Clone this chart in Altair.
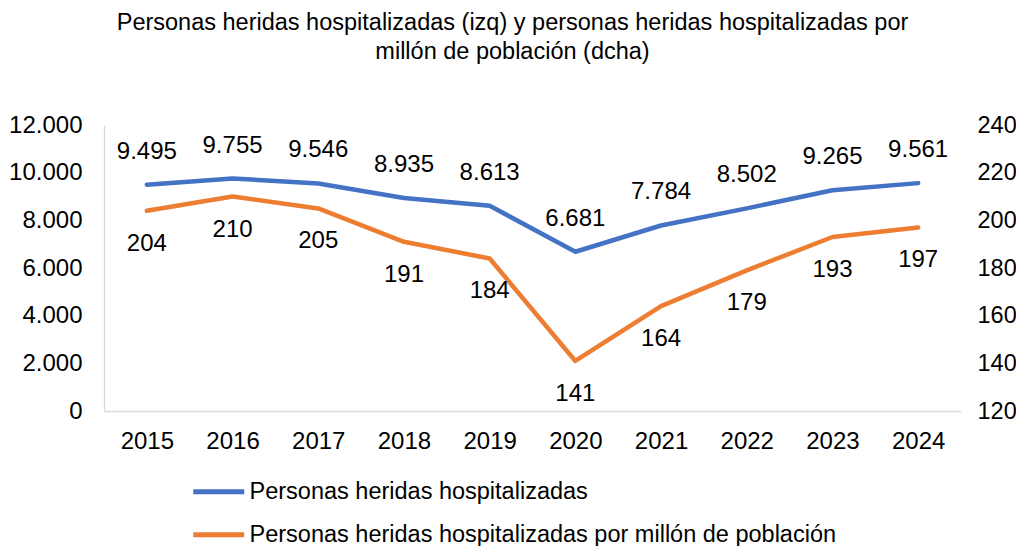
import altair as alt
import pandas as pd

years = ["2015", "2016", "2017", "2018", "2019", "2020", "2021", "2022", "2023", "2024"]
heridos = [9495, 9755, 9546, 8935, 8613, 6681, 7784, 8502, 9265, 9561]
por_millon = [204, 210, 205, 191, 184, 141, 164, 179, 193, 197]
serie_a = "Personas heridas hospitalizadas"
serie_b = "Personas heridas hospitalizadas por millón de población"
title_lines = ["Personas heridas hospitalizadas (izq) y personas heridas hospitalizadas por",
               "millón de población (dcha)"]

df = pd.DataFrame({"year": years, "heridos": heridos, "millon": por_millon})

FONT = "Liberation Sans"
BLUE = "#4472C4"
ORANGE = "#ED7D31"
GRAY = "#D9D9D9"
FS = 24

x = alt.X("year:O", scale=alt.Scale(type="point", padding=0.5),
          axis=alt.Axis(title=None, labelAngle=0, ticks=False, tickSize=0, labelPadding=18.5,
                        domainColor=GRAY, domainWidth=1.3, labelFontSize=FS, labelFont=FONT,
                        labelColor="#000000", grid=False))

color = alt.Color("serie:N", scale=alt.Scale(domain=[serie_a, serie_b], range=[BLUE, ORANGE]),
                  legend=alt.Legend(title=None, orient="none", legendX=103, legendY=355,
                                    direction="vertical", symbolType="M-3,0H3", symbolSize=289,
                                    symbolStrokeWidth=5, labelFontSize=23.5, labelFont=FONT,
                                    labelColor="#000000", rowPadding=18, labelOffset=19,
                                    labelLimit=0, padding=0))

yl = alt.Y("heridos:Q", scale=alt.Scale(domain=[0, 12000]),
           axis=alt.Axis(title=None, orient="left", values=list(range(0, 12001, 2000)),
                         labelExpr="replace(format(datum.value, ',d'), ',', '.')",
                         ticks=False, tickSize=0, grid=False, domainColor=GRAY, domainWidth=1.3,
                         labelPadding=22, labelFontSize=FS, labelFont=FONT, labelColor="#000000"))

yr = alt.Y("millon:Q", scale=alt.Scale(domain=[120, 240]),
           axis=alt.Axis(title=None, orient="right", values=list(range(120, 241, 20)),
                         ticks=False, tickSize=0, grid=False, domain=False,
                         labelPadding=16, labelFontSize=23.5, labelFont=FONT, labelColor="#000000"))

base = alt.Chart(df)

line_a = base.transform_calculate(serie=f"'{serie_a}'").mark_line(
    strokeWidth=4.5, strokeCap="round", strokeJoin="round").encode(x=x, y=yl, color=color)
text_a = base.transform_calculate(
    lab="replace(format(datum.heridos, ',d'), ',', '.')").mark_text(
    font=FONT, fontSize=FS, color="#000000", dy=-33, baseline="middle").encode(
    x=x, y=yl, text="lab:N")

line_b = base.transform_calculate(serie=f"'{serie_b}'").mark_line(
    strokeWidth=4.5, strokeCap="round", strokeJoin="round").encode(x=x, y=yr, color=color)
text_b = base.mark_text(font=FONT, fontSize=FS, color="#000000", dy=33,
                        baseline="middle").encode(x=x, y=yr, text="millon:Q")

left = alt.layer(line_a, text_a)
right = alt.layer(line_b, text_b)

chart = alt.layer(left, right).resolve_scale(y="independent").properties(
    width=857, height=286,
    autosize=alt.AutoSizeParams(type="none"),
    padding={"left": 96, "top": 117, "right": 55, "bottom": 135},
    title=alt.TitleParams(text=title_lines, anchor="middle", frame="group", dx=-20, offset=50,
                          font=FONT, fontSize=23.5, fontWeight="normal", color="#000000",
                          lineHeight=29),
).configure_view(stroke=None)

chart.save("out.html", embed_options={"renderer": "svg", "actions": False})
